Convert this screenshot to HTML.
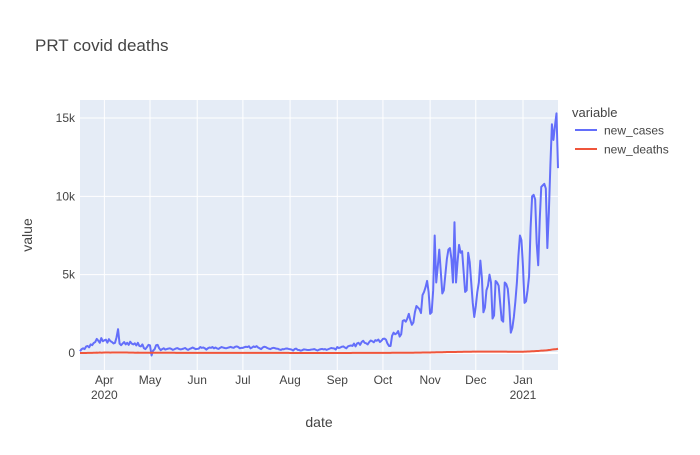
<!DOCTYPE html>
<html><head><meta charset="utf-8"><style>
body{margin:0;background:#fff;}
svg text{font-family:"Liberation Sans",Arial,sans-serif;fill:#444;}
</style></head><body>
<svg id="chart" width="700" height="450" xmlns="http://www.w3.org/2000/svg">
<rect width="700" height="450" fill="#fff"/>
<text x="35" y="51" font-size="17">PRT covid deaths</text>
<rect x="80" y="100" width="478" height="270" fill="#e5ecf6"/>
<g id="grid"></g>
<g id="series"></g>
<g id="axes"></g>
<text x="0" y="0" transform="translate(32,235) rotate(-90)" font-size="14" text-anchor="middle">value</text>
<text x="319" y="427" font-size="14" text-anchor="middle">date</text>
<g>
<text x="572" y="117" font-size="13">variable</text>
<line x1="575" y1="130" x2="597" y2="130" stroke="#636efa" stroke-width="2"/>
<text x="604" y="134.5" font-size="12">new_cases</text>
<line x1="575" y1="149" x2="597" y2="149" stroke="#ef553b" stroke-width="2"/>
<text x="604" y="153.5" font-size="12">new_deaths</text>
</g>
</svg>
<script>
const startDate = "2020-03-16";
const casesMar = [110,240,300,250,410,450,360,550,500,640,700,900,790,650,950,750];
const casesApr = [810,850,660,880,760,700,610,650,1000,1520,600,500,600,700,550,650,520,720,600,550,620,480,650,450,420,550,300,250,380,520];
const casesMay = [480,-160,150,240,500,520,300,180,250,300,220,250,280,300,260,200,240,290,310,260,230,250,280,320,250,200,260,300,350,300,250];
const casesJun = [260,280,380,330,350,300,220,300,350,330,380,300,350,290,260,330,380,350,320,300,330,360,390,350,330,400,420,380,300,330];
const casesJul = [330,370,400,380,430,300,350,420,380,440,350,300,250,350,400,380,320,280,250,300,330,310,280,270,220,200,250,240,280,290,260];
const casesAug = [240,220,160,250,280,200,190,150,180,230,220,200,190,200,220,230,250,200,160,210,240,260,230,250,200,240,280,320,300,290,220];
const casesSep = [380,320,350,400,420,350,300,420,460,480,450,600,420,610,650,520,700,780,650,620,550,700,800,750,680,820,780,860,700,780];
const casesOct = [900,920,850,600,450,450,1100,1300,1200,1250,1400,1050,1200,2050,2100,2000,2200,2500,2100,1800,1950,2600,3000,2900,2800,2550,3700,3900,4200,4600,3900];
const casesNov = [2500,2600,4000,7500,4500,5500,6600,5200,3800,4000,5000,6000,6600,6700,6000,4500,8350,4500,5800,6900,6400,6500,5200,3900,4000,6400,5800,4500,3200,2300];
const casesDec = [3000,3900,4500,5900,4800,2600,2900,4000,4300,5000,4500,2200,2400,4600,4500,4300,3200,2100,2000,4500,4400,4100,3000,1300,1600,2300,3300,4500,6200,7500,7200];
const casesJan = [5500,3200,3300,4000,4900,8000,10000,10100,9800,7000,5600,8500,10600,10700,10800,10500,6700,9000,12000,14600,13600,14500,15300,11800];
const deathsMar = [1,2,2,3,4,6,7,10,10,15,20,25,20,30,20,25];
const deathsApr = [30,30,35,30,25,30,35,30,30,35,30,30,30,30,30,30,25,25,25,25,20,20,25,20,20,20,15,15,15,15];
const deathsMay = [15,15,15,15,15,15,15,12,12,12,12,12,12,12,12,12,12,10,10,10,10,10,10,10,10,10,10,10,10,10,10];
const deathsJun = [5,5,5,5,5,5,5,5,5,5,5,5,5,5,5,5,5,5,5,5,5,5,5,5,5,5,5,5,5,5];
const deathsJul = [5,5,5,5,5,5,5,5,5,5,5,5,5,5,5,5,5,5,5,5,5,5,5,5,5,5,5,5,5,5,5];
const deathsAug = [3,3,3,3,3,3,3,3,3,3,3,3,3,3,3,3,3,3,3,3,3,3,3,3,3,3,3,3,3,3,3];
const deathsSep = [3,3,3,3,3,3,3,3,3,3,5,5,5,5,5,5,5,5,5,5,7,7,7,7,7,7,8,8,8,8];
const deathsOct = [10,10,10,10,10,10,12,12,12,12,15,15,15,15,15,18,18,18,20,20,20,22,22,25,25,25,28,28,30,30,32];
const deathsNov = [35,38,40,40,45,45,48,50,50,55,55,60,60,60,62,65,65,68,70,70,75,75,78,80,80,80,82,82,85,85];
const deathsDec = [85,85,85,85,88,88,88,88,88,88,85,85,85,85,85,85,85,85,85,85,85,80,80,80,80,80,80,80,80,80,80];
const deathsJan = [80,85,90,95,100,105,110,115,120,125,130,140,150,155,160,165,175,190,200,220,230,240,250,270];
const yTicks = [0,5000,10000,15000];
const yTickLabels = ["0","5k","10k","15k"];
const monthTicks = ["2020-04-01","2020-05-01","2020-06-01","2020-07-01","2020-08-01","2020-09-01","2020-10-01","2020-11-01","2020-12-01","2021-01-01"];
const monthLabels = ["Apr","May","Jun","Jul","Aug","Sep","Oct","Nov","Dec","Jan"];
const yearLabels = ["2020","","","","","","","","","2021"];

const cases = [].concat(casesMar,casesApr,casesMay,casesJun,casesJul,casesAug,casesSep,casesOct,casesNov,casesDec,casesJan);
const deaths = [].concat(deathsMar,deathsApr,deathsMay,deathsJun,deathsJul,deathsAug,deathsSep,deathsOct,deathsNov,deathsDec,deathsJan);
const NS="http://www.w3.org/2000/svg";
const L=80,R=558,T=100,B=370;
const t0=Date.parse(startDate+"T00:00:00Z");
const nDays=cases.length-1;
function dayOf(s){return (Date.parse(s+"T00:00:00Z")-t0)/86400000;}
function xScale(d){return L+d*(R-L)/nDays;}
const yMin=-1085,yMax=16150;
function yScale(v){return B-(v-yMin)*(B-T)/(yMax-yMin);}
function mk(tag,attrs,parent){const e=document.createElementNS(NS,tag);for(const k in attrs)e.setAttribute(k,attrs[k]);parent.appendChild(e);return e;}
const grid=document.getElementById('grid'),axes=document.getElementById('axes'),series=document.getElementById('series');
yTicks.forEach((v,i)=>{
  const y=yScale(v);
  const ln=mk('line',{x1:L,x2:R,y1:y,y2:y,stroke:'#fff','stroke-width':i===0?2:1},grid);
  
  
  const tx=mk('text',{x:75,y:y+4,'font-size':12,'text-anchor':'end'},axes);
  tx.textContent=yTickLabels[i];
  
  
});
monthTicks.forEach((m,i)=>{
  const x=xScale(dayOf(m));
  const ln=mk('line',{x1:x,x2:x,y1:T,y2:B,stroke:'#fff','stroke-width':1},grid);
  
  
  const tx=mk('text',{x:x,y:384,'font-size':12,'text-anchor':'middle'},axes);
  tx.textContent=monthLabels[i];
  
  
  if(yearLabels[i]){
    const ty=mk('text',{x:x,y:399,'font-size':12,'text-anchor':'middle'},axes);
    ty.textContent=yearLabels[i];
    
    
  }
});
function line(arr,color,name){
  const pts=arr.map((v,i)=>xScale(i).toFixed(2)+","+yScale(v).toFixed(2)).join(" ");
  const p=mk('polyline',{points:pts,fill:'none',stroke:color,'stroke-width':2,'stroke-linejoin':'round'},series);
  
  
}
line(cases,'#636efa','new-cases-line');
line(deaths,'#ef553b','new-deaths-line');
</script>
</body></html>
